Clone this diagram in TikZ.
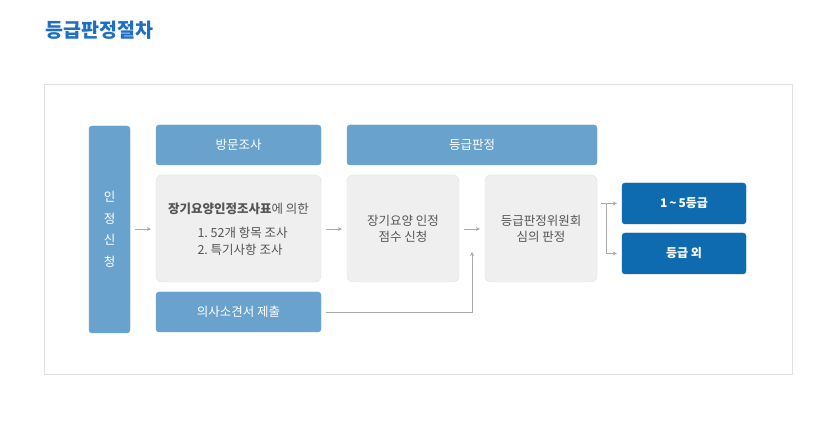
\documentclass[tikz,border=0pt]{standalone}
\usepackage{fontspec}
\setmainfont{Noto Sans CJK KR}
\newfontfamily\kr{Noto Sans CJK KR}
\usetikzlibrary{arrows.meta}
\definecolor{steel}{HTML}{69A3CD}
\definecolor{deepblue}{HTML}{0E6BB0}
\definecolor{titleblue}{HTML}{1C6FC4}
\definecolor{boxgray}{HTML}{EFEFEF}
\definecolor{edgegray}{HTML}{E0E0E0}
\definecolor{txtgray}{HTML}{555555}
\definecolor{arrgray}{HTML}{AAAAAA}
\begin{document}
\begin{tikzpicture}[x=1pt,y=-1pt,
  lightbox/.style={draw=steel,fill=steel,rounded corners=3pt,text=white,font=\kr\fontsize{12.5}{14}\selectfont},
  darkbox/.style={draw=deepblue,fill=deepblue,rounded corners=3pt,text=white,font=\kr\bfseries\fontsize{12}{14}\selectfont},
  graybox/.style={draw=edgegray,fill=boxgray,rounded corners=6pt,text=txtgray,font=\kr\fontsize{12.5}{16}\selectfont,align=center},
  conn/.style={draw=arrgray,line width=0.8pt,-{Stealth[length=4pt,width=4pt]}},
  plain/.style={draw=arrgray,line width=0.8pt}]
\useasboundingbox (0,0) rectangle (823,422);
\fill[white] (0,0) rectangle (823,422);
\node[anchor=west,text=titleblue,font=\kr\bfseries\fontsize{19.5}{22}\selectfont] (title) at (42,30) {등급판정절차};
\draw[edgegray,line width=0.8pt] (44,84) rectangle (792,374);
% boxes
\node[lightbox,minimum width=41pt,minimum height=207pt,inner sep=0pt,align=center,font=\kr\fontsize{12.5}{21.5}\selectfont] (apply) at (109.5,229.5) {인\\정\\신\\청};
\node[lightbox,minimum width=165pt,minimum height=40pt,inner sep=0pt] (visit) at (238.5,145) {방문조사};
\node[graybox,minimum width=165pt,minimum height=107pt,inner sep=0pt] (survey) at (238.5,228.5) {};
\node[text=txtgray,font=\kr\fontsize{12.5}{14}\selectfont] (s1) at (238.5,209) {\textbf{장기요양인정조사표}에 의한};
\node[text=txtgray,font=\kr\fontsize{12.5}{16.5}\selectfont,align=left,anchor=north west] (s2) at (194,224) {1.\ 52개 항목 조사\\2.\ 특기사항 조사};
\node[lightbox,minimum width=165pt,minimum height=40pt,inner sep=0pt] (doctor) at (238.5,312) {의사소견서 제출};
\node[lightbox,minimum width=250pt,minimum height=40pt,inner sep=0pt] (grade) at (472,145) {등급판정};
\node[graybox,minimum width=112pt,minimum height=107pt,inner sep=0pt] (score) at (403,228.5) {장기요양 인정\\점수 신청};
\node[graybox,minimum width=112pt,minimum height=107pt,inner sep=0pt] (comm) at (541,228.5) {등급판정위원회\\심의 판정};
\node[darkbox,minimum width=124pt,minimum height=41pt,inner sep=0pt] (g15) at (684,203.5) {1\,\char"7E\,5등급};
\node[darkbox,minimum width=124pt,minimum height=41pt,inner sep=0pt] (gout) at (684,253.5) {등급 외};
% connectors
\coordinate (a1) at ([xshift=5pt]apply.east |- 0,229);
\coordinate (b1) at ([xshift=-5pt]survey.west |- 0,229);
\draw[conn] (a1) -- (b1);
\draw[conn] ([xshift=5pt]survey.east |- 0,229) -- ([xshift=-5pt]score.west |- 0,229);
\draw[conn] ([xshift=5pt]score.east |- 0,229) -- ([xshift=-5pt]comm.west |- 0,229);
\coordinate (d1) at ([xshift=5pt]doctor.east);
\coordinate (d2) at (472,312);
\coordinate (d3) at (472,252);
\draw[conn] (d1) -- (d2) -- (d3);
\coordinate (c1) at ([xshift=4pt]comm.east |- g15.west);
\coordinate (c2) at (606,203.5);
\coordinate (c3) at (606,253.5);
\draw[conn] (c1) -- ([xshift=-5pt]g15.west);
\draw[conn] (c2) -- (c3) -- ([xshift=-5pt]gout.west);
\end{tikzpicture}
\end{document}
